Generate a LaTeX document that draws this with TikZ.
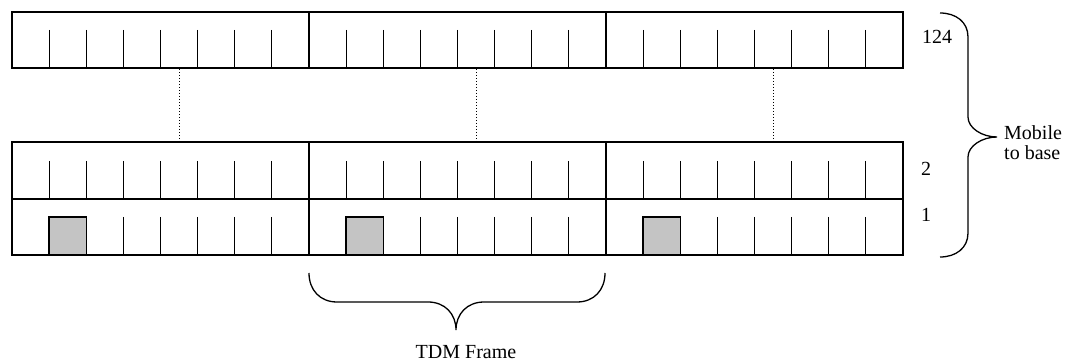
\documentclass[tikz,border=0pt]{standalone}
\usepackage{fontspec}
\setmainfont{Liberation Serif}
\begin{document}
\begin{tikzpicture}[x=1pt,y=-1pt,
  rowbox/.style={line width=1.3pt},
  tickline/.style={line width=1.1pt},
  slotfill/.style={fill={rgb,255:red,196;green,196;blue,196}, draw, line width=1.3pt},
  dotline/.style={dotted, line width=1pt},
  lbl/.style={font=\fontsize{20}{20}\selectfont, inner sep=0pt},
  bracepath/.style={line width=1.3pt}]
\useasboundingbox (0,0) rectangle (1066,363);
\def\sw{37.125}
% rows
\draw[rowbox] (12,12) rectangle (903,68);
\draw[rowbox] (12,142) rectangle (903,199);
\draw[rowbox] (12,199) rectangle (903,255);
\foreach \f in {1,2} {
  \pgfmathsetmacro\xd{12+297*\f}
  \draw[rowbox] (\xd,12) -- (\xd,68);
  \draw[rowbox] (\xd,142) -- (\xd,255);
}
\foreach \f in {0,1,2} {
  \pgfmathsetmacro\xs{12+297*\f}
  \foreach \k in {1,...,7} {
    \pgfmathsetmacro\xt{\xs+\sw*\k}
    \draw[tickline] (\xt,30) -- (\xt,68);
    \draw[tickline] (\xt,161) -- (\xt,199);
  }
  \foreach \k in {3,...,7} {
    \pgfmathsetmacro\xt{\xs+\sw*\k}
    \draw[tickline] (\xt,217) -- (\xt,255);
  }
  \pgfmathsetmacro\xa{\xs+\sw}
  \pgfmathsetmacro\xb{\xs+2*\sw}
  \draw[slotfill] (\xa,217) rectangle (\xb,255);
  \pgfmathsetmacro\xm{\xs+4.5*\sw}
  \draw[dotline] (\xm,69) -- (\xm,141);
}
% row labels
\node[lbl, anchor=base west] (l124) at (922,44) {124};
\node[lbl, anchor=base west] (l2) at (921,176) {2};
\node[lbl, anchor=base west] (l1) at (921,222) {1};
% right brace
\draw[bracepath] (940,13) .. controls (956,13) and (968,22) .. (968,37) -- (968,117)
  .. controls (968,128) and (982,137) .. (997,137)
  .. controls (982,137) and (968,146) .. (968,157) -- (968,233)
  .. controls (968,248) and (956,257) .. (940,257);
\node[lbl, anchor=west, align=left] (mob) at (1004,143) {Mobile\\to base};
% bottom brace
\draw[bracepath] (309,273) .. controls (309,290) and (320,302) .. (337,302) -- (428,302)
  .. controls (445,302) and (456,314) .. (456,330)
  .. controls (456,314) and (467,302) .. (484,302) -- (577,302)
  .. controls (594,302) and (605,290) .. (605,273);
\node[lbl, anchor=base] (tdm) at (466,359) {TDM Frame};
\end{tikzpicture}
\end{document}
